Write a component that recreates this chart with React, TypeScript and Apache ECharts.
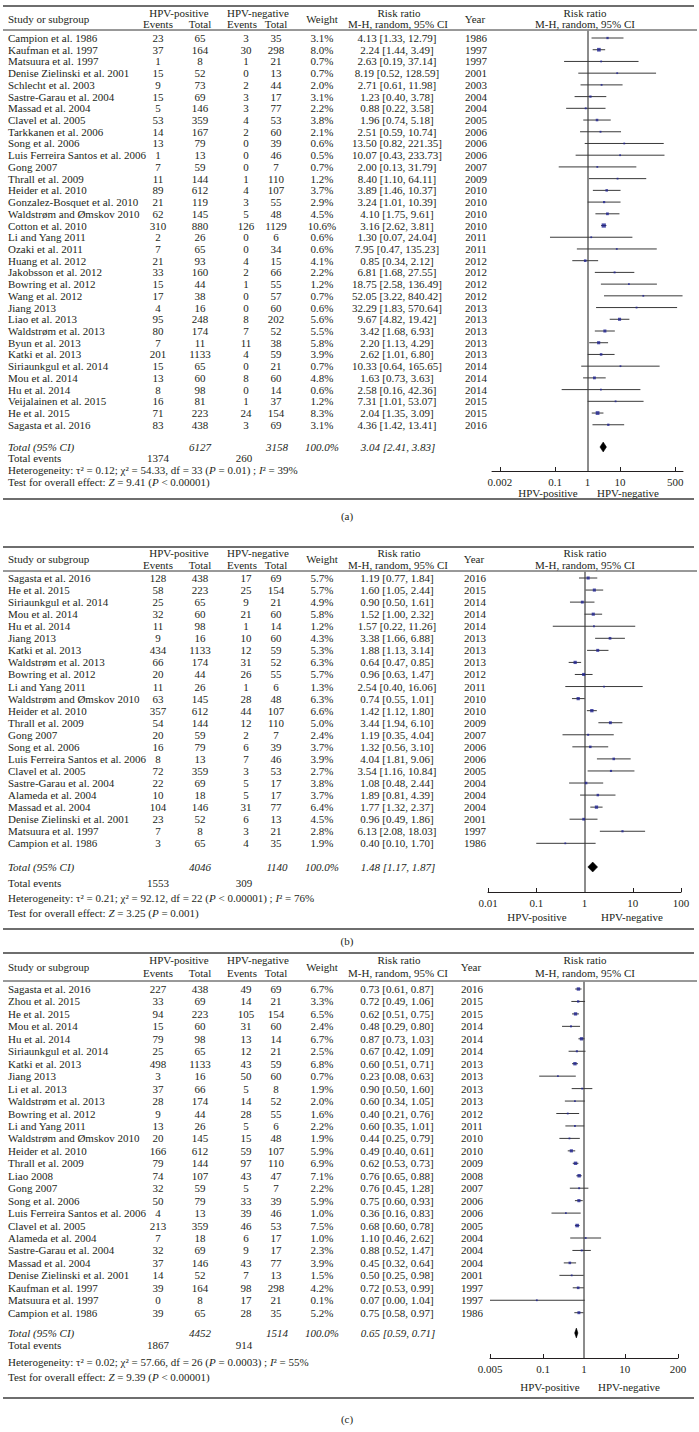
import React, { useEffect, useRef } from 'react';
import * as echarts from 'echarts';

// ---------------- Panel (a) ----------------
const studiesA = ['Campion et al. 1986', 'Kaufman et al. 1997', 'Matsuura et al. 1997', 'Denise Zielinski et al. 2001', 'Schlecht et al. 2003', 'Sastre-Garau et al. 2004', 'Massad et al. 2004', 'Clavel et al. 2005', 'Tarkkanen et al. 2006', 'Song et al. 2006', 'Luis Ferreira Santos et al. 2006', 'Gong 2007', 'Thrall et al. 2009', 'Heider et al. 2010', 'Gonzalez-Bosquet et al. 2010', 'Waldstrøm and Ømskov 2010', 'Cotton et al. 2010', 'Li and Yang 2011', 'Ozaki et al. 2011', 'Huang et al. 2012', 'Jakobsson et al. 2012', 'Bowring et al. 2012', 'Wang et al. 2012', 'Jiang 2013', 'Liao et al. 2013', 'Waldstrøm et al. 2013', 'Byun et al. 2013', 'Katki et al. 2013', 'Siriaunkgul et al. 2014', 'Mou et al. 2014', 'Hu et al. 2014', 'Veijalainen et al. 2015', 'He et al. 2015', 'Sagasta et al. 2016'];
const yearsA = [1986, 1997, 1997, 2001, 2003, 2004, 2004, 2005, 2006, 2006, 2006, 2007, 2009, 2010, 2010, 2010, 2010, 2011, 2011, 2012, 2012, 2012, 2012, 2013, 2013, 2013, 2013, 2013, 2014, 2014, 2014, 2015, 2015, 2016];
const posEventsA = [23, 37, 1, 15, 9, 15, 5, 53, 14, 13, 1, 7, 11, 89, 21, 62, 310, 2, 7, 21, 33, 15, 17, 4, 95, 80, 7, 201, 15, 13, 8, 16, 71, 83];
const posTotalA = [65, 164, 8, 52, 73, 69, 146, 359, 167, 79, 13, 59, 144, 612, 119, 145, 880, 26, 65, 93, 160, 44, 38, 16, 248, 174, 11, 1133, 65, 60, 98, 81, 223, 438];
const negEventsA = [3, 30, 1, 0, 2, 3, 3, 4, 2, 0, 0, 0, 1, 4, 3, 5, 126, 0, 0, 4, 2, 1, 0, 0, 8, 7, 11, 4, 0, 8, 0, 1, 24, 3];
const negTotalA = [35, 298, 21, 13, 44, 17, 77, 53, 60, 39, 46, 7, 110, 107, 55, 48, 1129, 6, 34, 15, 66, 55, 57, 60, 202, 52, 38, 59, 21, 60, 14, 37, 154, 69];
const weightA = [3.1, 8.0, 0.7, 0.7, 2.0, 3.1, 2.2, 3.8, 2.1, 0.6, 0.5, 0.7, 1.2, 3.7, 2.9, 4.5, 10.6, 0.6, 0.6, 4.1, 2.2, 1.2, 0.7, 0.6, 5.6, 5.5, 5.8, 3.9, 0.7, 4.8, 0.6, 1.2, 8.3, 3.1];
const rrA = [4.13, 2.24, 2.63, 8.19, 2.71, 1.23, 0.88, 1.96, 2.51, 13.50, 10.07, 2.00, 8.40, 3.89, 3.24, 4.10, 3.16, 1.30, 7.95, 0.85, 6.81, 18.75, 52.05, 32.29, 9.67, 3.42, 2.20, 2.62, 10.33, 1.63, 2.58, 7.31, 2.04, 4.36];
const loA = [1.33, 1.44, 0.19, 0.52, 0.61, 0.40, 0.22, 0.74, 0.59, 0.82, 0.43, 0.13, 1.10, 1.46, 1.01, 1.75, 2.62, 0.07, 0.47, 0.34, 1.68, 2.58, 3.22, 1.83, 4.82, 1.68, 1.13, 1.01, 0.64, 0.73, 0.16, 1.01, 1.35, 1.42];
const hiA = [12.79, 3.49, 37.14, 128.59, 11.98, 3.78, 3.58, 5.18, 10.74, 221.35, 233.73, 31.79, 64.11, 10.37, 10.39, 9.61, 3.81, 24.04, 135.23, 2.12, 27.55, 136.49, 840.42, 570.64, 19.42, 6.93, 4.29, 6.80, 165.65, 3.63, 42.36, 53.07, 3.09, 13.41];
const summaryA = [3.04, 2.41, 3.83]; // est, lo, hi
const totalsA = [6127, 3158, 1374, 260]; // pos total, neg total, pos events, neg events
const hetA = ['0.12', '54.33', '33', '= 0.01', '39%'];
const testA = ['9.41', '< 0.00001'];
const ticksA = [0.002, 0.1, 1, 10, 500];

// ---------------- Panel (b) ----------------
const studiesB = ['Sagasta et al. 2016', 'He et al. 2015', 'Siriaunkgul et al. 2014', 'Mou et al. 2014', 'Hu et al. 2014', 'Jiang 2013', 'Katki et al. 2013', 'Waldstrøm et al. 2013', 'Bowring et al. 2012', 'Li and Yang 2011', 'Waldstrøm and Ømskov 2010', 'Heider et al. 2010', 'Thrall et al. 2009', 'Gong 2007', 'Song et al. 2006', 'Luis Ferreira Santos et al. 2006', 'Clavel et al. 2005', 'Sastre-Garau et al. 2004', 'Alameda et al. 2004', 'Massad et al. 2004', 'Denise Zielinski et al. 2001', 'Matsuura et al. 1997', 'Campion et al. 1986'];
const yearsB = [2016, 2015, 2014, 2014, 2014, 2013, 2013, 2013, 2012, 2011, 2010, 2010, 2009, 2007, 2006, 2006, 2005, 2004, 2004, 2004, 2001, 1997, 1986];
const posEventsB = [128, 58, 25, 32, 11, 9, 434, 66, 20, 11, 63, 357, 54, 20, 16, 8, 72, 22, 10, 104, 23, 7, 3];
const posTotalB = [438, 223, 65, 60, 98, 16, 1133, 174, 44, 26, 145, 612, 144, 59, 79, 13, 359, 69, 18, 146, 52, 8, 65];
const negEventsB = [17, 25, 9, 21, 1, 10, 12, 31, 26, 1, 28, 44, 12, 2, 6, 7, 3, 5, 5, 31, 6, 3, 4];
const negTotalB = [69, 154, 21, 60, 14, 60, 59, 52, 55, 6, 48, 107, 110, 7, 39, 46, 53, 17, 17, 77, 13, 21, 35];
const weightB = [5.7, 5.7, 4.9, 5.8, 1.2, 4.3, 5.3, 6.3, 5.7, 1.3, 6.3, 6.6, 5.0, 2.4, 3.7, 3.9, 2.7, 3.8, 3.7, 6.4, 4.5, 2.8, 1.9];
const rrB = [1.19, 1.60, 0.90, 1.52, 1.57, 3.38, 1.88, 0.64, 0.96, 2.54, 0.74, 1.42, 3.44, 1.19, 1.32, 4.04, 3.54, 1.08, 1.89, 1.77, 0.96, 6.13, 0.40];
const loB = [0.77, 1.05, 0.50, 1.00, 0.22, 1.66, 1.13, 0.47, 0.63, 0.40, 0.55, 1.12, 1.94, 0.35, 0.56, 1.81, 1.16, 0.48, 0.81, 1.32, 0.49, 2.08, 0.10];
const hiB = [1.84, 2.44, 1.61, 2.32, 11.26, 6.88, 3.14, 0.85, 1.47, 16.06, 1.01, 1.80, 6.10, 4.04, 3.10, 9.06, 10.84, 2.44, 4.39, 2.37, 1.86, 18.03, 1.70];
const summaryB = [1.48, 1.17, 1.87];
const totalsB = [4046, 1140, 1553, 309];
const hetB = ['0.21', '92.12', '22', '< 0.00001', '76%'];
const testB = ['3.25', '= 0.001'];
const ticksB = [0.01, 0.1, 1, 10, 100];

// ---------------- Panel (c) ----------------
const studiesC = ['Sagasta et al. 2016', 'Zhou et al. 2015', 'He et al. 2015', 'Mou et al. 2014', 'Hu et al. 2014', 'Siriaunkgul et al. 2014', 'Katki et al. 2013', 'Jiang 2013', 'Li et al. 2013', 'Waldstrøm et al. 2013', 'Bowring et al. 2012', 'Li and Yang 2011', 'Waldstrøm and Ømskov 2010', 'Heider et al. 2010', 'Thrall et al. 2009', 'Liao 2008', 'Gong 2007', 'Song et al. 2006', 'Luis Ferreira Santos et al. 2006', 'Clavel et al. 2005', 'Alameda et al. 2004', 'Sastre-Garau et al. 2004', 'Massad et al. 2004', 'Denise Zielinski et al. 2001', 'Kaufman et al. 1997', 'Matsuura et al. 1997', 'Campion et al. 1986'];
const yearsC = [2016, 2015, 2015, 2014, 2014, 2014, 2013, 2013, 2013, 2013, 2012, 2011, 2010, 2010, 2009, 2008, 2007, 2006, 2006, 2005, 2004, 2004, 2004, 2001, 1997, 1997, 1986];
const posEventsC = [227, 33, 94, 15, 79, 25, 498, 3, 37, 28, 9, 13, 20, 166, 79, 74, 32, 50, 4, 213, 7, 32, 37, 14, 39, 0, 39];
const posTotalC = [438, 69, 223, 60, 98, 65, 1133, 16, 66, 174, 44, 26, 145, 612, 144, 107, 59, 79, 13, 359, 18, 69, 146, 52, 164, 8, 65];
const negEventsC = [49, 14, 105, 31, 13, 12, 43, 50, 5, 14, 28, 5, 15, 59, 97, 43, 5, 33, 39, 46, 6, 9, 43, 7, 98, 17, 28];
const negTotalC = [69, 21, 154, 60, 14, 21, 59, 60, 8, 52, 55, 6, 48, 107, 110, 47, 7, 39, 46, 53, 17, 17, 77, 13, 298, 21, 35];
const weightC = [6.7, 3.3, 6.5, 2.4, 6.7, 2.5, 6.8, 0.7, 1.9, 2.0, 1.6, 2.2, 1.9, 5.9, 6.9, 7.1, 2.2, 5.9, 1.0, 7.5, 1.0, 2.3, 3.9, 1.5, 4.2, 0.1, 5.2];
const rrC = [0.73, 0.72, 0.62, 0.48, 0.87, 0.67, 0.60, 0.23, 0.90, 0.60, 0.40, 0.60, 0.44, 0.49, 0.62, 0.76, 0.76, 0.75, 0.36, 0.68, 1.10, 0.88, 0.45, 0.50, 0.72, 0.07, 0.75];
const loC = [0.61, 0.49, 0.51, 0.29, 0.73, 0.42, 0.51, 0.08, 0.50, 0.34, 0.21, 0.35, 0.25, 0.40, 0.53, 0.65, 0.45, 0.60, 0.16, 0.60, 0.46, 0.52, 0.32, 0.25, 0.53, 0.00, 0.58];
const hiC = [0.87, 1.06, 0.75, 0.80, 1.03, 1.09, 0.71, 0.63, 1.60, 1.05, 0.76, 1.01, 0.79, 0.61, 0.73, 0.88, 1.28, 0.93, 0.83, 0.78, 2.62, 1.47, 0.64, 0.98, 0.99, 1.04, 0.97];
const summaryC = [0.65, 0.59, 0.71];
const totalsC = [4452, 1514, 1867, 914];
const hetC = ['0.02', '57.66', '26', '= 0.0003', '55%'];
const testC = ['9.39', '< 0.00001'];
const ticksC = [0.005, 0.1, 1, 10, 200];

const panels = [
  { studies: studiesA, years: yearsA, pe: posEventsA, pt: posTotalA, ne: negEventsA, nt: negTotalA, w: weightA, rr: rrA, lo: loA, hi: hiA, sum: summaryA, totals: totalsA, het: hetA, test: testA, ticks: ticksA, label: '(a)' },
  { studies: studiesB, years: yearsB, pe: posEventsB, pt: posTotalB, ne: negEventsB, nt: negTotalB, w: weightB, rr: rrB, lo: loB, hi: hiB, sum: summaryB, totals: totalsB, het: hetB, test: testB, ticks: ticksB, label: '(b)' },
  { studies: studiesC, years: yearsC, pe: posEventsC, pt: posTotalC, ne: negEventsC, nt: negTotalC, w: weightC, rr: rrC, lo: loC, hi: hiC, sum: summaryC, totals: totalsC, het: hetC, test: testC, ticks: ticksC, label: '(c)' },
];

// ---------------- Layout (pixels) ----------------
const layouts = [
  { topLine: 6, h1: 13, h2: 24, hMid: 18.5, headLine: 30, row0: 38, rowH: 11.72, totalY: 447, totEvY: 458, hetY: 470, testY: 482, gx0: 492, gx1: 683, axisY: 471, namesY: 492.5, bottomLine: 499, labelY: 516, xMin: 0.00115, xMax: 867, yearX: 476, posNameX: 548, negNameX: 628 },
  { topLine: 547, h1: 552.5, h2: 565, hMid: 558.5, headLine: 571, row0: 578, rowH: 12.06, totalY: 867, totEvY: 883, hetY: 898, testY: 913, gx0: 488, gx1: 681, axisY: 892, namesY: 917, bottomLine: 929, labelY: 941, xMin: 0.01, xMax: 100, yearX: 475, posNameX: 537, negNameX: 632 },
  { topLine: 953, h1: 960, h2: 973, hMid: 967, headLine: 981, row0: 989, rowH: 12.45, totalY: 1333, totEvY: 1345, hetY: 1362, testY: 1377, gx0: 490, gx1: 678, axisY: 1358, namesY: 1387, bottomLine: 1398, labelY: 1419, xMin: 0.005, xMax: 200, yearX: 472, posNameX: 550, negNameX: 629 },
];

const SERIF = 'Liberation Serif';
const INK = '#231f20';
const FS = 11;
const COL = { study: 8, pe: 158, pt: 200, ne: 246, nt: 276, w: 322, rr: 397, forest: 585 };

function txt(text: string, x: number, y: number, align = 'center', italic = false, size = FS) {
  return {
    type: 'text',
    silent: true,
    style: {
      text,
      x,
      y,
      fontFamily: SERIF,
      fontSize: size,
      fontStyle: italic ? 'italic' : 'normal',
      fill: INK,
      textAlign: align,
      textVerticalAlign: 'middle',
    },
  };
}

function richTxt(text: string, x: number, y: number) {
  return {
    type: 'text',
    silent: true,
    style: {
      text,
      x,
      y,
      fontFamily: SERIF,
      fontSize: FS,
      fontStyle: 'normal',
      fill: INK,
      textAlign: 'left',
      textVerticalAlign: 'middle',
      rich: {
        i: { fontFamily: SERIF, fontSize: FS, fontStyle: 'italic', fill: INK },
      },
    },
  };
}

function hline(x1: number, x2: number, y: number, color: string, width: number) {
  return { type: 'line', silent: true, shape: { x1, y1: y, x2, y2: y }, style: { stroke: color, lineWidth: width } };
}

const fmt2 = (v: number) => v.toFixed(2);
const ciText = (r: number, l: number, h: number) => `${fmt2(r)} [${fmt2(l)}, ${fmt2(h)}]`;

function buildOption() {
  const graphics: any[] = [];
  const grids: any[] = [];
  const xAxes: any[] = [];
  const yAxes: any[] = [];
  const series: any[] = [];

  panels.forEach((d, p) => {
    const L = layouts[p];
    const rowY = (i: number) => L.row0 + i * L.rowH;

    // rules
    graphics.push(hline(3, 694, L.topLine, '#6e6e6e', 2));
    graphics.push(hline(3, 697, L.headLine, '#333333', 1));
    graphics.push(hline(3, 694, L.bottomLine, '#6e6e6e', 2));

    // header
    graphics.push(txt('Study or subgroup', COL.study, L.hMid, 'left'));
    graphics.push(txt('HPV-positive', (COL.pe + COL.pt) / 2, L.h1));
    graphics.push(txt('Events', COL.pe, L.h2));
    graphics.push(txt('Total', COL.pt, L.h2));
    graphics.push(txt('HPV-negative', 258, L.h1));
    graphics.push(txt('Events', 242, L.h2));
    graphics.push(txt('Total', COL.nt, L.h2));
    graphics.push(txt('Weight', COL.w, L.hMid));
    graphics.push(txt('Risk ratio', COL.rr + 2, L.h1));
    graphics.push(txt('M-H, random, 95% CI', COL.rr + 1, L.h2));
    graphics.push(txt('Year', L.yearX - 1, L.hMid));
    graphics.push(txt('Risk ratio', COL.forest, L.h1));
    graphics.push(txt('M-H, random, 95% CI', COL.forest, L.h2));

    // rows
    d.studies.forEach((s, i) => {
      const y = rowY(i);
      graphics.push(txt(s, COL.study, y, 'left'));
      graphics.push(txt(String(d.pe[i]), COL.pe, y));
      graphics.push(txt(String(d.pt[i]), COL.pt, y));
      graphics.push(txt(String(d.ne[i]), COL.ne, y));
      graphics.push(txt(String(d.nt[i]), COL.nt, y));
      graphics.push(txt(d.w[i].toFixed(1) + '%', COL.w, y));
      graphics.push(txt(ciText(d.rr[i], d.lo[i], d.hi[i]), COL.rr, y));
      graphics.push(txt(String(d.years[i]), L.yearX, y));
    });

    // totals
    graphics.push(txt('Total (95% CI)', COL.study, L.totalY, 'left', true));
    graphics.push(txt(String(d.totals[0]), COL.pt, L.totalY, 'center', true));
    graphics.push(txt(String(d.totals[1]), COL.nt + 1, L.totalY, 'center', true));
    graphics.push(txt('100.0%', COL.w, L.totalY, 'center', true));
    graphics.push(txt(ciText(d.sum[0], d.sum[1], d.sum[2]), COL.rr + 1, L.totalY, 'center', true));
    graphics.push(txt('Total events', COL.study, L.totEvY, 'left'));
    graphics.push(txt(String(d.totals[2]), COL.pe, L.totEvY));
    graphics.push(txt(String(d.totals[3]), 244, L.totEvY));
    graphics.push(
      richTxt(
        `Heterogeneity: τ² = ${d.het[0]}; χ² = ${d.het[1]}, df = ${d.het[2]} ({i|P} ${d.het[3]}) ; {i|I}² = ${d.het[4]}`,
        COL.study,
        L.hetY
      )
    );
    graphics.push(richTxt(`Test for overall effect: {i|Z} = ${d.test[0]} ({i|P} ${d.test[1]})`, COL.study, L.testY));

    // axis names and panel label
    graphics.push(txt('HPV-positive', L.posNameX, L.namesY));
    graphics.push(txt('HPV-negative', L.negNameX, L.namesY));
    graphics.push(txt(d.label, 347, L.labelY));

    // forest grid
    const yMin = -(L.row0 - L.headLine) / L.rowH;
    const yMax = yMin + (L.axisY - L.headLine) / L.rowH;
    grids.push({ left: L.gx0, width: L.gx1 - L.gx0, top: L.headLine, height: L.axisY - L.headLine, containLabel: false });
    xAxes.push({
      type: 'log',
      logBase: 10,
      gridIndex: p,
      min: L.xMin,
      max: L.xMax,
      axisLine: { show: true, onZero: false, lineStyle: { color: INK, width: 1 } },
      axisTick: { show: true, inside: true, length: 4, customValues: d.ticks, lineStyle: { color: INK } },
      axisLabel: {
        customValues: d.ticks,
        formatter: (v: number) => String(parseFloat(Number(v).toPrecision(4))),
        fontFamily: SERIF,
        fontSize: FS,
        color: INK,
        margin: 5,
      },
      splitLine: { show: false },
      minorTick: { show: false },
    });
    yAxes.push({ type: 'value', gridIndex: p, inverse: true, min: yMin, max: yMax, show: false });

    const xMin = L.xMin;
    const xMax = L.xMax;
    series.push({
      type: 'custom',
      xAxisIndex: p,
      yAxisIndex: p,
      silent: true,
      clip: false,
      z: 3,
      encode: { x: [0, 1], y: 2 },
      data: d.lo.map((l, i) => [l, d.hi[i], i]),
      renderItem: (params: any, api: any) => {
        const y = api.value(2);
        const a = api.coord([Math.max(api.value(0), xMin), y]);
        const b = api.coord([Math.min(api.value(1), xMax), y]);
        return { type: 'line', shape: { x1: a[0], y1: a[1], x2: b[0], y2: b[1] }, style: { stroke: '#3a3a3a', lineWidth: 1 } };
      },
    });
    series.push({
      type: 'scatter',
      xAxisIndex: p,
      yAxisIndex: p,
      silent: true,
      z: 4,
      symbol: 'rect',
      itemStyle: { color: '#1f2391' },
      data: d.rr.map((v, i) => ({ value: [v, i], symbolSize: Math.max(1.8, 1.3 * Math.sqrt(d.w[i])) })),
      markLine: {
        silent: true,
        symbol: ['none', 'none'],
        label: { show: false },
        lineStyle: { color: '#8c8c8c', width: 2, type: 'solid' },
        data: [{ xAxis: 1 }],
        z: 2,
      },
    });
    const totalRow = (L.totalY - L.row0) / L.rowH;
    series.push({
      type: 'custom',
      xAxisIndex: p,
      yAxisIndex: p,
      silent: true,
      clip: false,
      z: 5,
      encode: { x: [0, 1, 2], y: 3 },
      data: [[d.sum[1], d.sum[0], d.sum[2], totalRow]],
      renderItem: (params: any, api: any) => {
        const y = api.value(3);
        const l = api.coord([api.value(0), y]);
        const c = api.coord([api.value(1), y]);
        const r = api.coord([api.value(2), y]);
        const h = 5;
        return {
          type: 'polygon',
          shape: { points: [[l[0], l[1]], [c[0], c[1] - h], [r[0], r[1]], [c[0], c[1] + h]] },
          style: { fill: '#000000', stroke: '#000000', lineWidth: 0.5 },
        };
      },
    });
  });

  return {
    animation: false,
    backgroundColor: '#ffffff',
    grid: grids,
    xAxis: xAxes,
    yAxis: yAxes,
    series,
    graphic: { elements: graphics },
  };
}

export default function App() {
  const ref = useRef<HTMLDivElement>(null);
  useEffect(() => {
    if (!ref.current) return;
    const chart = echarts.init(ref.current, undefined, { renderer: 'svg' });
    chart.setOption(buildOption() as any);
    return () => chart.dispose();
  }, []);
  return <div ref={ref} style={{ position: 'absolute', left: 0, top: 0, width: 699, height: 1432, background: '#fff' }} />;
}
